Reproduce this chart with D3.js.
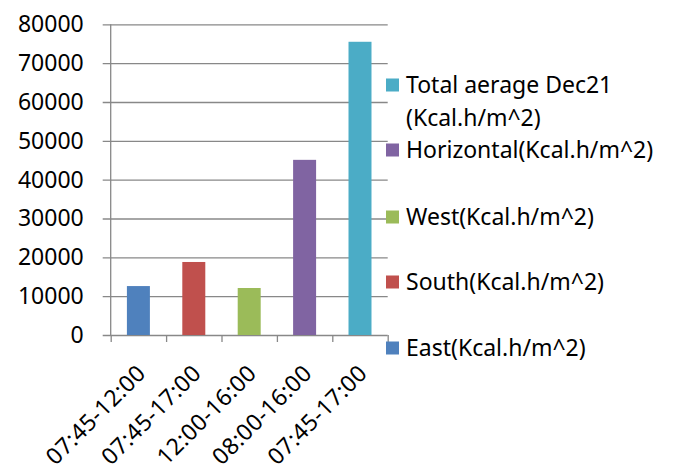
<!DOCTYPE html>
<html>
<head>
<meta charset="utf-8">
<script src="https://cdn.jsdelivr.net/npm/d3@7"></script>
<style>
    body { margin: 0; background: #fff; }
    text { font-family: "Noto Sans", sans-serif; fill: #000; }
</style>
</head>
<body>
<div id="chart"></div>
<script>
// Chart data
var categories = ["07:45-12:00", "07:45-17:00", "12:00-16:00", "08:00-16:00", "07:45-17:00"];
var seriesNames = ["East(Kcal.h/m^2)", "South(Kcal.h/m^2)", "West(Kcal.h/m^2)",
    "Horizontal(Kcal.h/m^2)", "Total aerage Dec21 (Kcal.h/m^2)"];
var values = [12600, 18800, 12100, 45100, 75500];
var colors = ["#4F81BD", "#C0504D", "#9BBB59", "#8064A2", "#4BACC6"];
var yTicks = [0, 10000, 20000, 30000, 40000, 50000, 60000, 70000, 80000];

// Dimensions
var margin = { top: 24.3, right: 287.3, bottom: 136, left: 110.7 };
var width = 675 - margin.left - margin.right;
var height = 471 - margin.top - margin.bottom;
var fontSize = "23px";

var svg = d3.select("#chart")
    .append("svg")
    .attr("width", 675)
    .attr("height", 471);

var g = svg.append("g")
    .attr("transform", "translate(" + margin.left + "," + margin.top + ")");

// Scales
var xScale = d3.scaleBand()
    .domain(d3.range(categories.length))
    .range([0, width])
    .paddingInner(0.585)
    .paddingOuter(0.2925);
var xEdges = d3.scaleLinear().domain([0, categories.length]).range([0, width]);
var yScale = d3.scaleLinear().domain([0, 80000]).range([height, 0]);

// Y axis with gridlines
var yAxis = g.append("g")
    .attr("class", "y axis")
    .call(d3.axisLeft(yScale).tickValues(yTicks).tickSize(8).tickPadding(19).tickFormat(d3.format("d")));
yAxis.select(".domain").remove();
yAxis.selectAll(".tick line")
    .attr("x1", -8)
    .attr("x2", width)
    .attr("stroke", "#888")
    .attr("stroke-width", 1.3);
yAxis.selectAll("text").style("font-size", fontSize).attr("font-family", null);

// Y axis line
g.append("line")
    .attr("x1", 0).attr("x2", 0)
    .attr("y1", 0).attr("y2", height)
    .attr("stroke", "#888")
    .attr("stroke-width", 1.3);

// X axis tick marks at category boundaries
var xAxis = g.append("g")
    .attr("transform", "translate(0," + height + ")")
    .call(d3.axisBottom(xEdges).tickValues(d3.range(categories.length + 1)).tickSize(7).tickFormat(""));
xAxis.select(".domain").remove();
xAxis.selectAll(".tick line").attr("stroke", "#888").attr("stroke-width", 1.3);

// Bars
g.selectAll("rect.bar")
    .data(values)
    .enter()
    .append("rect")
    .attr("class", "bar")
    .attr("x", function (d, i) { return xScale(i); })
    .attr("width", xScale.bandwidth())
    .attr("y", function (d) { return yScale(d); })
    .attr("height", function (d) { return height - yScale(d); })
    .attr("fill", function (d, i) { return colors[i]; });

// Rotated category labels
g.selectAll("text.xlabel")
    .data(categories)
    .enter()
    .append("text")
    .attr("class", "xlabel")
    .attr("text-anchor", "end")
    .attr("dy", "0.35em")
    .attr("transform", function (d, i) {
        return "translate(" + (xScale(i) + xScale.bandwidth() / 2 + 3) + "," + (height + 34) + ") rotate(-45)";
    })
    .style("font-size", fontSize)
    .style("letter-spacing", "0.4px")
    .text(function (d) { return d; });

// Legend (reverse order, first entry wraps on two lines)
var legendRows = [85, 150, 217, 282, 348];
var legend = svg.append("g").attr("class", "legend");
var order = d3.range(seriesNames.length).reverse();
order.forEach(function (idx, row) {
    var cy = legendRows[row];
    legend.append("rect")
        .attr("x", 386)
        .attr("y", cy - 6.5)
        .attr("width", 13)
        .attr("height", 13)
        .attr("fill", colors[idx]);
    var label = legend.append("text")
        .attr("x", 406)
        .attr("y", cy)
        .attr("dy", "0.35em")
        .style("font-size", fontSize);
    var name = seriesNames[idx];
    if (name.indexOf(" (") > 0) {
        var parts = name.split(" (");
        label.append("tspan").attr("x", 406).text(parts[0]);
        label.append("tspan").attr("x", 406).attr("dy", 33).text("(" + parts[1]);
    } else {
        label.text(name);
    }
});
</script>
</body>
</html>
